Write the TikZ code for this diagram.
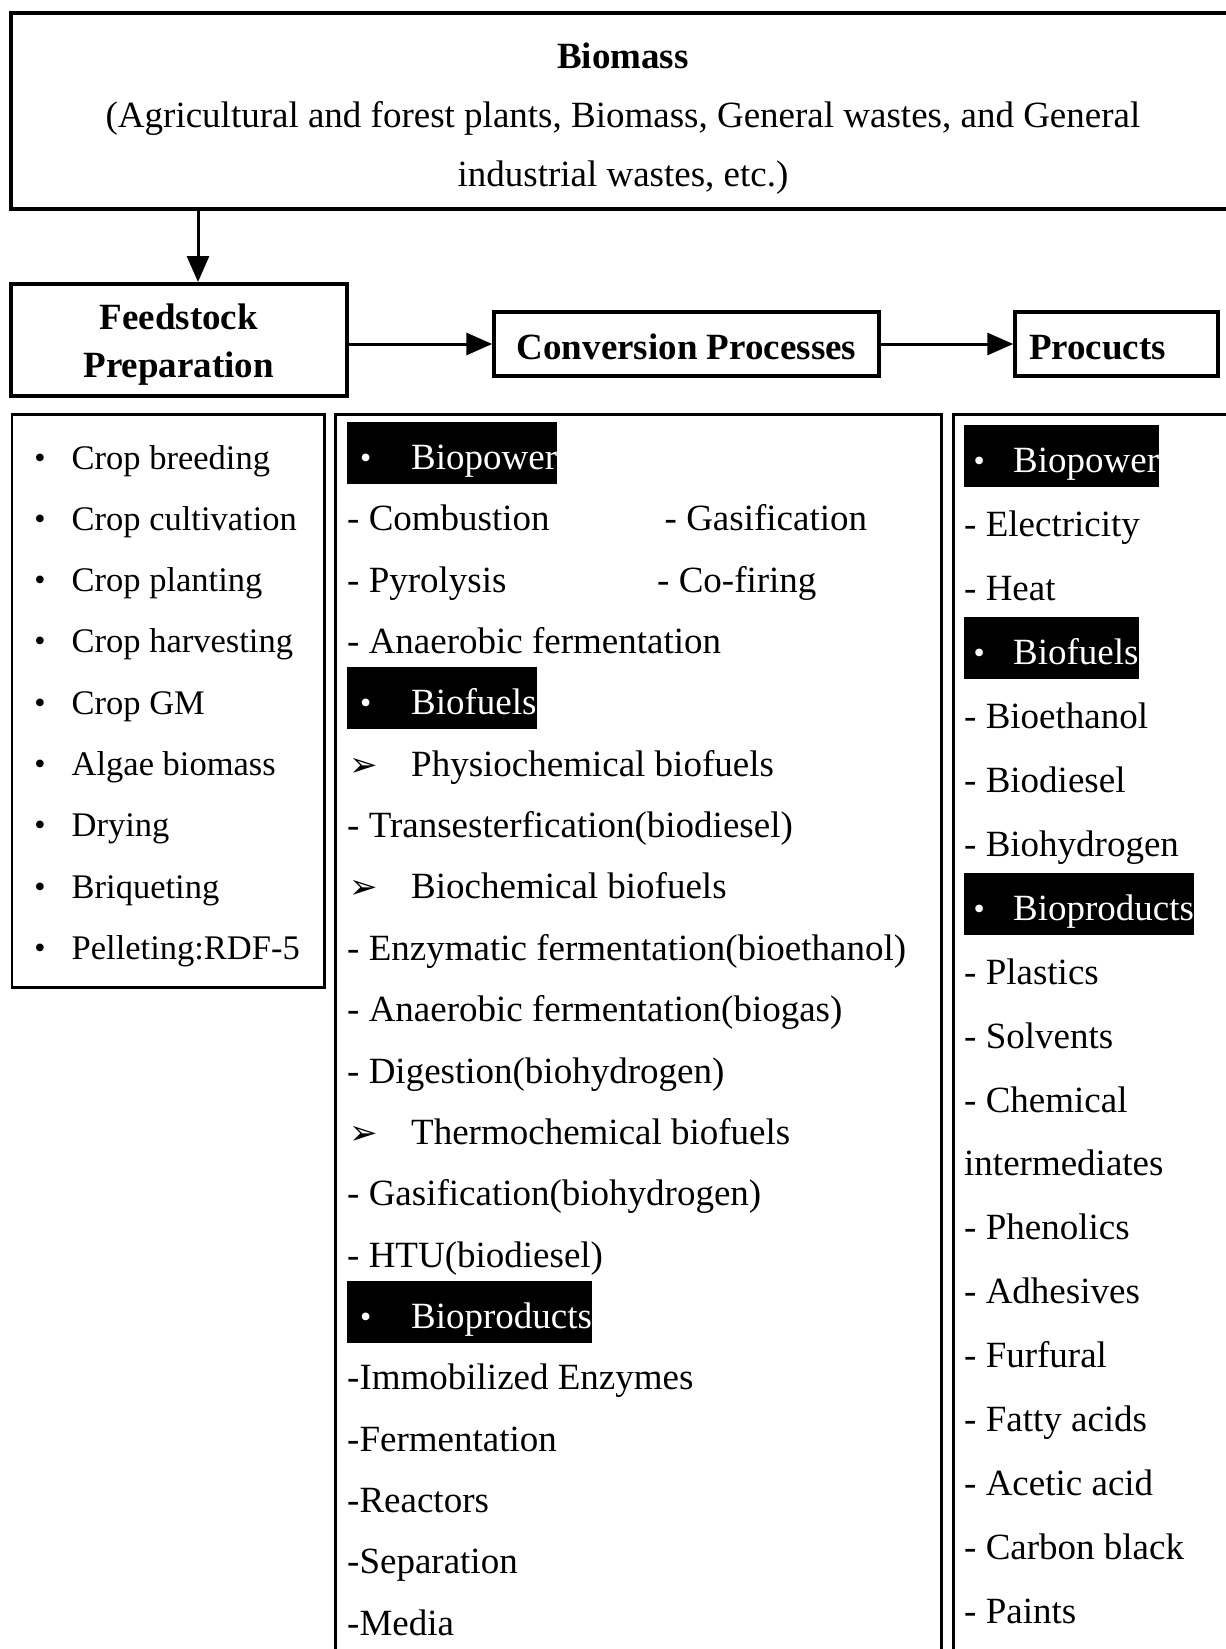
\documentclass[tikz,border=0pt]{standalone}
\usepackage{fontspec}
\setmainfont{Liberation Serif}
\newfontfamily\symfont{DejaVu Sans}
\usetikzlibrary{arrows.meta}

\newcommand{\blt}{\raisebox{1pt}{\fontsize{32}{32}\selectfont\textbullet}}
\newcommand{\arrmark}{{\symfont\fontsize{34}{34}\selectfont ➢}}

\tikzset{
  every node/.style={font=\fontsize{37}{44}\selectfont, inner sep=0pt},
  topbox/.style={draw, line width=4pt},
  toptext/.style={align=center, font=\fontsize{37}{59}\selectfont},
  hbox/.style={draw, line width=4pt, align=center, font=\fontsize{37}{48}\selectfont\bfseries},
  lbox/.style={draw, line width=2.5pt},
  arr/.style={line width=3pt, -{Triangle[length=26pt,width=22pt]}},
  itm/.style={anchor=base west},
  ln/.style={itm},
  hlc/.style={itm, fill=black, text=white, text height=47.5pt, text depth=14.5pt,
    execute at begin node={\makebox[64pt][l]{\hspace{13pt}\blt}}},
  hlp/.style={itm, fill=black, text=white, text height=47.5pt, text depth=14.5pt,
    execute at begin node={\makebox[49pt][l]{\hspace{9.5pt}\blt}}},
  ar/.style={itm, execute at begin node={\makebox[64pt][l]{\hspace{2pt}\arrmark}}}
}

\begin{document}
\begin{tikzpicture}[x=1pt, y=-1pt]
  \useasboundingbox (0,0) rectangle (1226,1649);

  % top row
  \node[topbox, minimum width=1225, minimum height=196] (biomass) at (623,110.8) {};
  \node[toptext] (biomasstext) at ([yshift=-8pt]biomass.center)
    {\textbf{Biomass}\\(Agricultural and forest plants, Biomass, General wastes, and General\\industrial wastes, etc.)};
  \node[hbox, minimum width=336.5, minimum height=112] (feed) at (178.75,340) {};
  \node[align=center, font=\fontsize{37}{48}\selectfont\bfseries] (feedtext) at ([yshift=-4.5pt]feed.center) {Feedstock\\Preparation};
  \node[hbox, line width=3.5pt, text height=31.5pt, text depth=0pt, minimum width=385, minimum height=64] (conv) at (686.5,344) {Conversion Processes};
  \node[hbox, line width=3.5pt, text height=31.5pt, text depth=0pt, minimum width=203, minimum height=64, text width=175, align=left] (prod) at (1116.5,344) {Procucts};

  \coordinate (bm) at (198,0);
  \draw[arr] (biomass.south -| bm) -- (feed.north -| bm);
  \draw[arr] (feed.east |- conv.west) -- (conv.west);
  \draw[arr] (conv.east) -- (prod.west);

  % list boxes
  \node[lbox, minimum width=312.5, minimum height=573, anchor=north west] (prepbox) at (10.5,413) {};
  \node[lbox, minimum width=606, minimum height=1260, anchor=north west] (convbox) at (334,413) {};
  \node[lbox, minimum width=300, minimum height=1260, anchor=north west] (prodbox) at (952,413) {};

  % feedstock list
  \foreach \t [count=\i from 0] in {Crop breeding, Crop cultivation, Crop planting, Crop harvesting,
      Crop GM, Algae biomass, Drying, Briqueting, Pelleting:RDF-5} {
    \node[anchor=base] (fb\i) at (40,{469+61.3*\i}) {\blt};
    \node[itm, font=\fontsize{34.5}{40}\selectfont] (f\i) at (71.5,{469+61.3*\i}) {\t};
  }

  % conversion list
  \foreach \s/\t [count=\i from 0] in {hlc/Biopower, ln/- Combustion, ln/- Pyrolysis,
      ln/- Anaerobic fermentation, hlc/Biofuels, ar/Physiochemical biofuels,
      ln/- Transesterfication(biodiesel), ar/Biochemical biofuels,
      ln/- Enzymatic fermentation(bioethanol), ln/- Anaerobic fermentation(biogas),
      ln/- Digestion(biohydrogen), ar/Thermochemical biofuels, ln/- Gasification(biohydrogen),
      ln/- HTU(biodiesel), hlc/Bioproducts, ln/-Immobilized Enzymes, ln/-Fermentation,
      ln/-Reactors, ln/-Separation, ln/-Media}
    \node[\s] (c\i) at (347,{469.5+61.35*\i}) {\t};
  \node[itm] (c1b) at (664.5,{469.5+61.35}) {- Gasification};
  \node[itm] (c2b) at (657,{469.5+2*61.35}) {- Co-firing};

  % products list
  \foreach \s/\t [count=\i from 0] in {hlp/Biopower, ln/- Electricity, ln/- Heat, hlp/Biofuels,
      ln/- Bioethanol, ln/- Biodiesel, ln/- Biohydrogen, hlp/Bioproducts, ln/- Plastics,
      ln/- Solvents, ln/- Chemical, ln/intermediates, ln/- Phenolics, ln/- Adhesives,
      ln/- Furfural, ln/- Fatty acids, ln/- Acetic acid, ln/- Carbon black, ln/- Paints}
    \node[\s] (p\i) at (964,{472.5+63.95*\i}) {\t};
\end{tikzpicture}
\end{document}
